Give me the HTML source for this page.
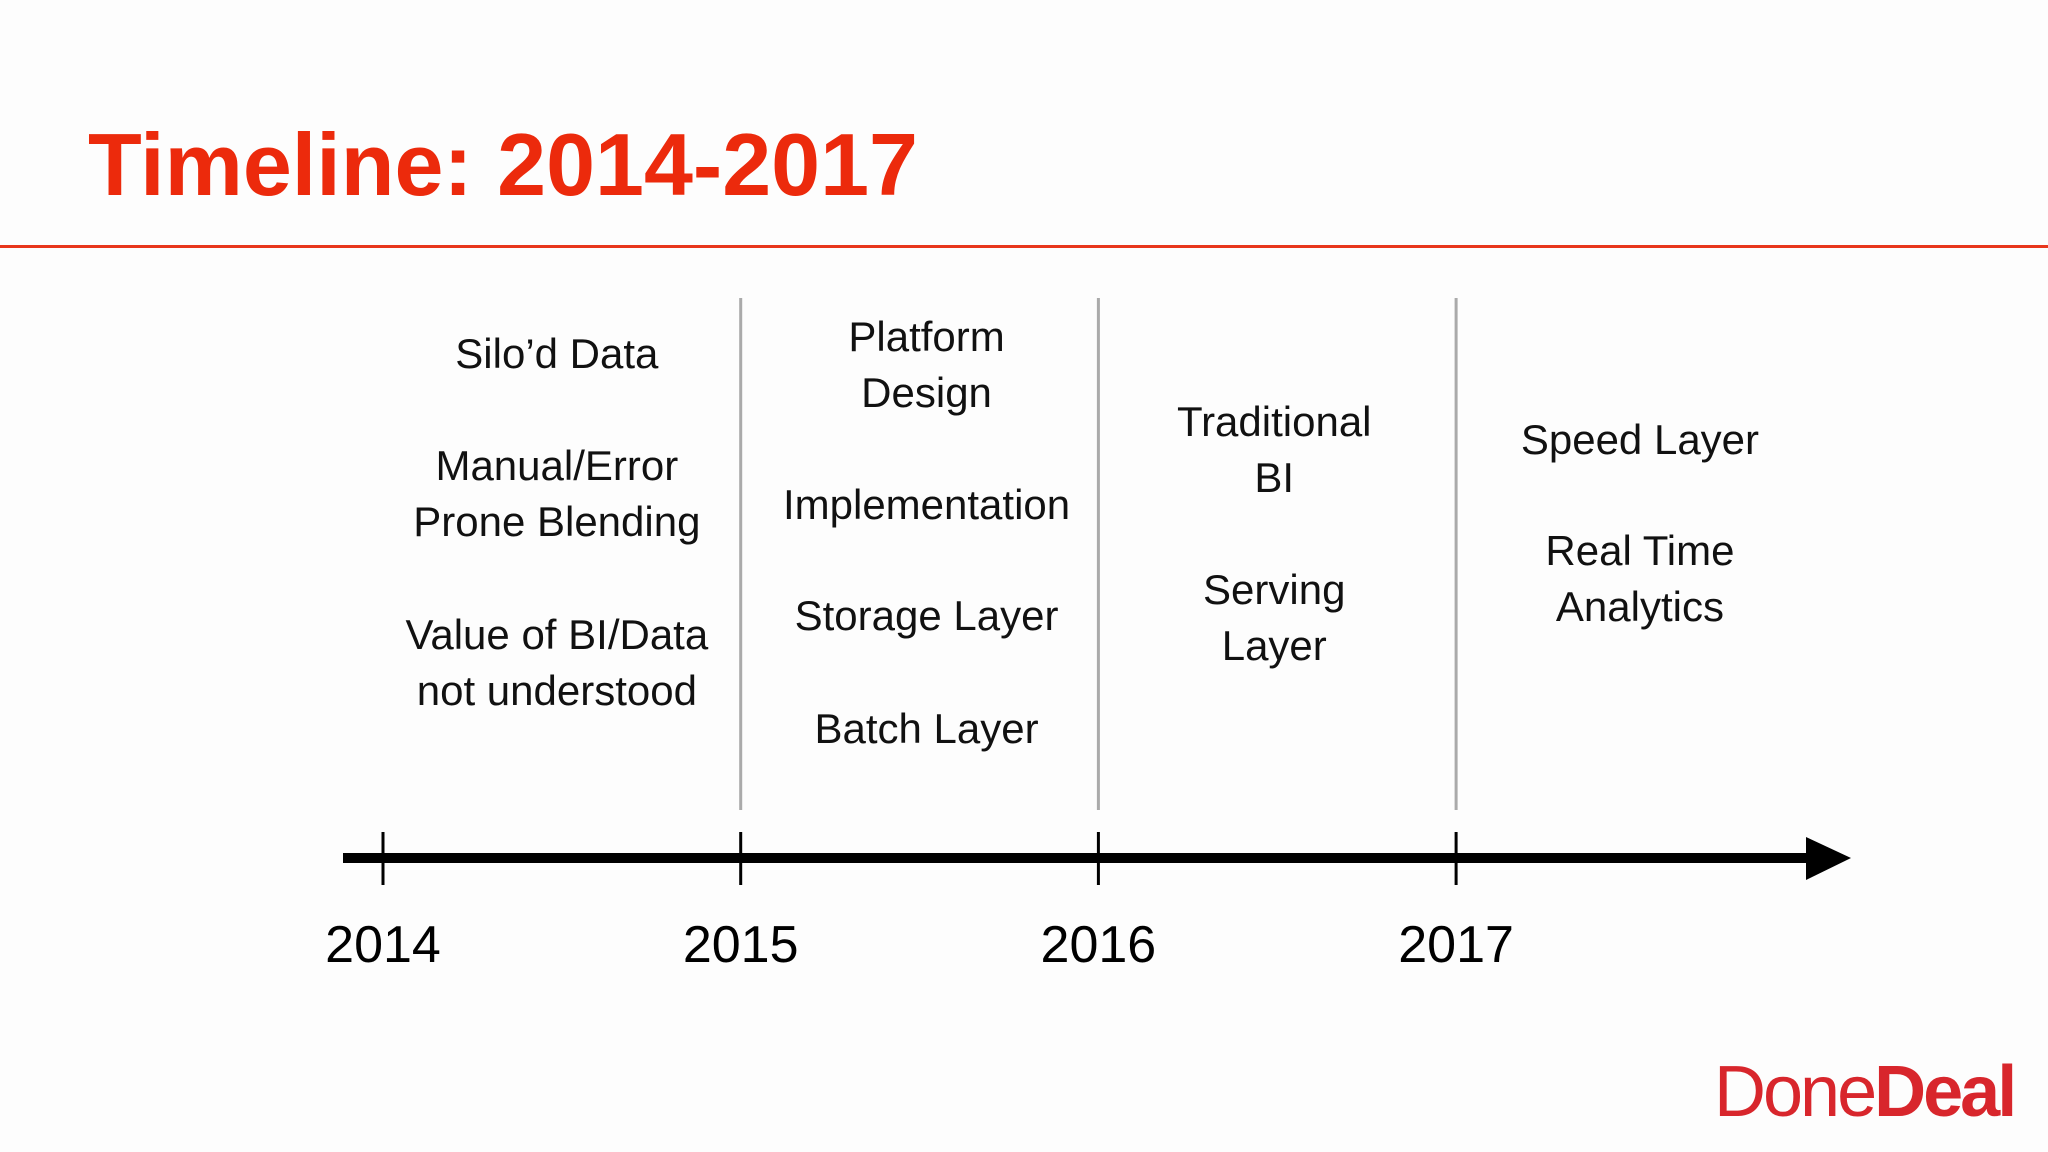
<!DOCTYPE html>
<html>
<head>
<meta charset="utf-8">
<style>
  html,body{margin:0;padding:0;}
  body{width:2048px;height:1152px;background:#fdfdfd;position:relative;overflow:hidden;font-family:"Liberation Sans",sans-serif;}
  .title{position:absolute;left:88px;top:110px;font-size:88px;font-weight:bold;color:#ec2a0c;line-height:110px;white-space:nowrap;}
  .rule{position:absolute;left:0;top:245px;width:2048px;height:3px;background:#e8361c;}
  .ln{position:absolute;width:460px;margin-left:-230px;text-align:center;font-size:42px;color:#111;line-height:50px;transform:translateY(-50%);white-space:nowrap;}
  .logo{position:absolute;left:1714px;top:1057px;font-size:72px;color:#d8262c;letter-spacing:-3px;line-height:70px;white-space:nowrap;}
</style>
</head>
<body>
<div class="title">Timeline: 2014-2017</div>
<div class="rule"></div>

<svg id="tl" width="2048" height="1152" style="position:absolute;left:0;top:0"></svg>

<div id="labels"></div>

<div class="logo"><span>Done</span><span style="font-weight:bold">Deal</span></div>

<script>
const years = ["2014","2015","2016","2017"];
const col1 = [["Silo’d Data",354],["Manual/Error",466],["Prone Blending",522],["Value of BI/Data",635],["not understood",691]];
const col2 = [["Platform",337],["Design",393],["Implementation",505],["Storage Layer",616],["Batch Layer",729]];
const col3 = [["Traditional",422],["BI",478],["Serving",590],["Layer",646]];
const col4 = [["Speed Layer",440],["Real Time",551],["Analytics",607]];
const columns = [col1,col2,col3,col4];
const colShift = [0,12,2,10];

const x0 = 383, step = 357.7;
function xAt(i){ return x0 + i*step; }
const NS = "http://www.w3.org/2000/svg";
const svg = document.getElementById('tl');
function mk(tag, attrs){ const e=document.createElementNS(NS,tag); for(const k in attrs) e.setAttribute(k,attrs[k]); svg.appendChild(e); return e; }

for(let i=1;i<years.length;i++){
  const l = mk('line',{x1:xAt(i),x2:xAt(i),y1:298,y2:810,stroke:'#aaa','stroke-width':3});
  
  
}
const ax = mk('line',{x1:343,x2:1810,y1:858,y2:858,stroke:'#000','stroke-width':10});


const ar = mk('polygon',{points:'1806,837 1851,858 1806,880',fill:'#000'});


years.forEach((y,i)=>{
  const t = mk('line',{x1:xAt(i),x2:xAt(i),y1:832,y2:885,stroke:'#000','stroke-width':3});
  
  
  const tx = mk('text',{x:xAt(i),y:962,'text-anchor':'middle','font-size':52,'font-family':'Liberation Sans, sans-serif',fill:'#000'});
  tx.textContent = y;
  
  
});

const lab = document.getElementById('labels');
columns.forEach((col,i)=>{
  const cx = xAt(i) + step/2 - 5 + colShift[i];
  col.forEach(([txt,y])=>{
    const d = document.createElement('div');
    d.className='ln';
    d.style.left = cx+'px';
    d.style.top = y+'px';
    d.textContent = txt;
    
    
    lab.appendChild(d);
  });
});
</script>
</body>
</html>
